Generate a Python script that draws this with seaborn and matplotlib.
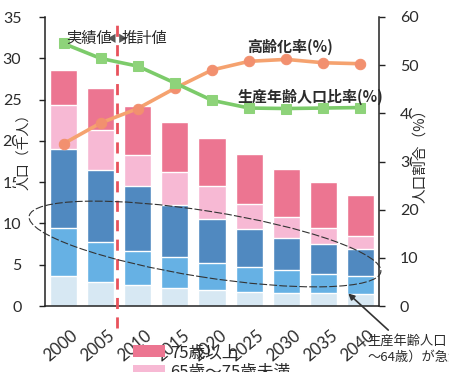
import numpy as np
import pandas as pd
import seaborn as sns
import matplotlib
matplotlib.use("Agg")
import matplotlib.pyplot as plt
from matplotlib.patches import Ellipse, Patch
import matplotlib.transforms as mtransforms

# ---- data -------------------------------------------------------------
years = ["2000", "2005", "2010", "2015", "2020", "2025", "2030", "2035", "2040"]
age_0_14 = [3.6, 2.95, 2.55, 2.15, 1.95, 1.75, 1.6, 1.55, 1.45]
age_15_39 = [5.85, 4.85, 4.15, 3.75, 3.3, 3.0, 2.75, 2.35, 2.15]
age_40_64 = [9.55, 8.7, 7.8, 6.3, 5.25, 4.55, 3.85, 3.6, 3.3]
age_65_74 = [5.4, 4.8, 3.8, 4.0, 4.0, 3.1, 2.6, 2.0, 1.6]
age_75_over = [4.2, 5.1, 5.9, 6.1, 5.8, 6.0, 5.75, 5.5, 4.95]
aging_rate = [33.7, 38.0, 41.0, 45.2, 49.0, 50.8, 51.2, 50.5, 50.3]
working_rate = [54.5, 51.4, 49.8, 46.3, 42.7, 41.1, 41.0, 41.1, 41.2]
left_ticks = [0, 5, 10, 15, 20, 25, 30, 35]
right_ticks = [0, 10, 20, 30, 40, 50, 60]

# ---- styling ----------------------------------------------------------
sns.set_style("white")
plt.rcParams["font.family"] = ["Lato", "Noto Sans CJK JP", "DejaVu Sans"]
JP = ["Noto Sans CJK JP", "DejaVu Sans"]
TXT = "#2b2b2b"

c_75 = "#EC7591"
c_65 = "#F7B9D4"
c_40 = "#5089C0"
c_15 = "#66B1E4"
c_0 = "#D7E8F3"
c_green = "#7CCB6A"
c_orange = "#F5A26F"

df = pd.DataFrame({
    "year": years,
    "s1": np.array(age_0_14),
    "s2": np.array(age_0_14) + np.array(age_15_39),
})
df["s3"] = df["s2"] + np.array(age_40_64)
df["s4"] = df["s3"] + np.array(age_65_74)
df["s5"] = df["s4"] + np.array(age_75_over)

fig = plt.figure(figsize=(4.49, 3.72), dpi=100)
ax = fig.add_axes([45 / 449, 66 / 372, 334 / 449, 289 / 372])

# stacked bars: cumulative totals drawn from the tallest layer down
for col, color in [("s5", c_75), ("s4", c_65), ("s3", c_40), ("s2", c_15), ("s1", c_0)]:
    sns.barplot(data=df, x="year", y=col, color=color, saturation=1, width=0.73,
                edgecolor="white", linewidth=1.0, errorbar=None, ax=ax)

ax.set_xlim(-0.5, len(years) - 0.5)
ax.set_ylim(0, 35)
ax.set_yticks(left_ticks)
ax.set_xlabel("")
ax.set_ylabel("")

# category ticks sit at the boundaries, labels at the bar centres
ax.set_xticks(range(len(years)))
ax.set_xticklabels(years, rotation=40, ha="right", rotation_mode="anchor",
                   fontsize=12, color=TXT)
ax.tick_params(axis="x", which="major", length=0, pad=15)
ax.set_xticks(np.arange(-0.5, len(years)), minor=True)
ax.tick_params(axis="x", which="minor", length=4, width=1, color="#222",
               direction="out")
offset = mtransforms.ScaledTranslation(7 / 100, 0, fig.dpi_scale_trans)
for lab in ax.get_xticklabels():
    lab.set_transform(lab.get_transform() + offset)
ax.tick_params(axis="y", length=4, width=1, color="#222", direction="out",
               pad=13, labelsize=11.5, labelcolor=TXT)

for s in ["top", "right"]:
    ax.spines[s].set_visible(False)
for s in ["left", "bottom"]:
    ax.spines[s].set_color("#222")
    ax.spines[s].set_linewidth(1.1)

# ---- ratio lines on the secondary axis --------------------------------
ax2 = ax.twinx()
pos = np.arange(len(years))
sns.lineplot(x=pos, y=aging_rate, ax=ax2, color=c_orange, lw=2.6, marker="o",
             markersize=7.5, markerfacecolor="#F2906F", markeredgecolor="#F2906F")
sns.lineplot(x=pos, y=working_rate, ax=ax2, color=c_green, lw=2.6, marker="s",
             markersize=7, markerfacecolor="#8ED37A", markeredgecolor="#8ED37A")
ax2.set_ylim(0, 60)
ax2.set_yticks(right_ticks)
ax2.set_xlim(-0.5, len(years) - 0.5)
ax2.set_ylabel("")
ax2.tick_params(axis="y", length=4, width=1, color="#222", direction="out",
                pad=11, labelsize=11.5, labelcolor=TXT)
for s in ["top", "left", "bottom"]:
    ax2.spines[s].set_visible(False)
ax2.spines["right"].set_color("#222")
ax2.spines["right"].set_linewidth(1.1)

# boundary between actual and projected values
ax2.axvline(1.43, ymin=-0.075, ymax=1.0, color="#E8525C", lw=2,
            linestyle=(0, (4, 3)), clip_on=False, zorder=1)
ax2.text(1.30, 55.5, "実績値", ha="right", va="center", fontsize=11,
         family=JP, color=TXT, zorder=5)
ax2.text(1.41, 55.5, "◀", ha="right", va="center", fontsize=7,
         family=JP, color="#555555", zorder=5)
ax2.text(1.45, 55.5, "▶", ha="left", va="center", fontsize=7,
         family=JP, color="#555555", zorder=5)
ax2.text(1.56, 55.5, "推計値", ha="left", va="center", fontsize=11,
         family=JP, color=TXT, zorder=5)

ax2.text(4.95, 53.8, "高齢化率(%)", ha="left", va="center", fontsize=10.8,
         family=JP, color=TXT, fontweight="bold")
ax2.text(4.68, 43.4, "生産年齢人口比率(%)", ha="left", va="center", fontsize=10.8,
         family=JP, color=TXT, fontweight="bold", clip_on=False)

# axis titles (white boxes sit over the tick labels they cross)
fig.text(24 / 449, 1 - 148 / 372, "人口（千人）", rotation=90,
         ha="center", va="center", fontsize=10, family=JP, color=TXT,
         bbox=dict(facecolor="white", edgecolor="none", pad=0.5), zorder=10)
fig.text(420 / 449, 1 - 152 / 372, "人口割合（%）", rotation=90,
         ha="center", va="center", fontsize=10.5, family=JP, color=TXT,
         bbox=dict(facecolor="white", edgecolor="none", pad=1.0), zorder=10)

# working-age population highlighted with an ellipse
ell = Ellipse((2.05, 1.28), 3.56, 0.66, angle=-9, transform=fig.dpi_scale_trans,
              fill=False, edgecolor="#333333", lw=0.8, linestyle=(0, (7, 2)))
fig.add_artist(ell)

ax2.annotate("", xy=(7.67, 2.6), xytext=(8.75, -5.0), textcoords="data",
             annotation_clip=False,
             arrowprops=dict(arrowstyle="-|>", color="#333333", lw=1.2,
                             shrinkA=0, shrinkB=0, mutation_scale=9))
ax2.text(8.18, -5.9, "生産年齢人口（15\n〜64歳）が急減", ha="left", va="top",
         fontsize=9.5, family=JP, color=TXT, linespacing=1.3, clip_on=False)

# legend
handles = [Patch(facecolor=c_75, edgecolor="none"),
           Patch(facecolor=c_65, edgecolor="none")]
fig.legend(handles, ["75歳以上", "65歳〜75歳未満"], loc="upper left",
           bbox_to_anchor=(118 / 449, 1 - 329 / 372), frameon=False,
           prop={"family": JP, "size": 12}, handlelength=1.9, handleheight=0.7,
           handletextpad=0.35, labelspacing=0.15, labelcolor=TXT)

fig.savefig("out.png", dpi=100, facecolor="white")
